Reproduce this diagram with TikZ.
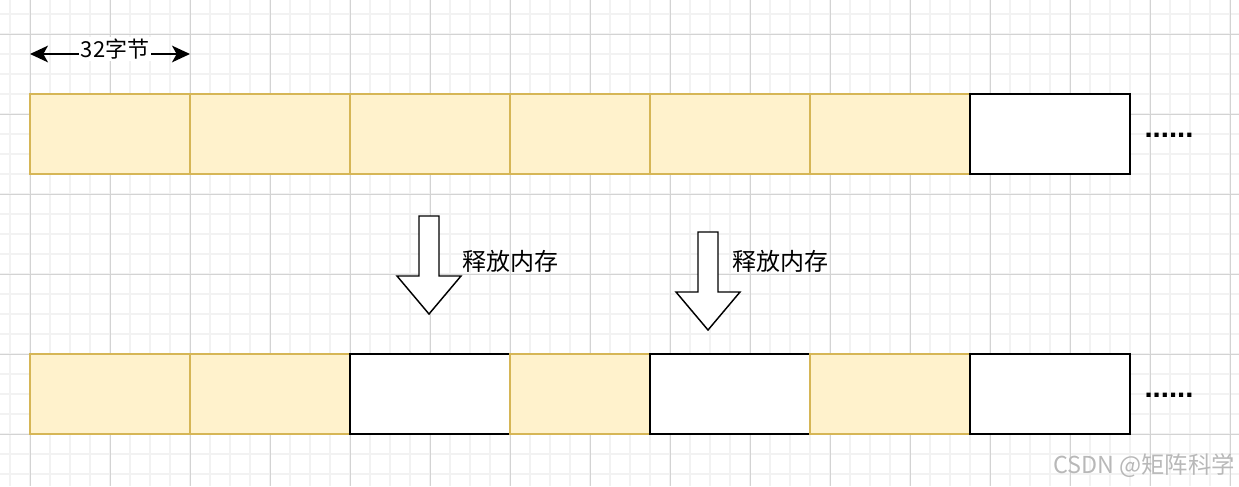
\documentclass[tikz,border=0pt]{standalone}
\usepackage{fontspec}
\setmainfont{Noto Sans CJK SC}
\newfontfamily\dotfont{Liberation Sans}
\usepackage{xcolor}
\usetikzlibrary{positioning,arrows.meta}
\definecolor{usedfill}{HTML}{FFF2CC}
\definecolor{usedline}{HTML}{D6B656}
\definecolor{gridminor}{HTML}{F2F2F2}
\definecolor{gridmajor}{HTML}{D3D3D3}
\definecolor{markgray}{HTML}{B8B8B8}

\begin{document}
\begin{tikzpicture}[x=0.75pt,y=-0.75pt,
  used/.style={draw=usedline,fill=usedfill,line width=1.1pt,minimum width=120pt,minimum height=60pt,inner sep=0pt,outer sep=0pt},
  free/.style={draw=black,fill=white,line width=1.5pt,minimum width=120pt,minimum height=60pt,inner sep=0pt,outer sep=0pt},
  narrow/.style={minimum width=105pt},
  label/.style={font=\fontsize{18}{18}\selectfont,inner sep=0pt},
  more/.style={font=\dotfont\bfseries\fontsize{22}{22}\selectfont,inner sep=0pt,anchor=base},
  freeing/.style={draw=black,fill=white,line width=1.1pt,line join=miter}]
\useasboundingbox (0,0) rectangle (1239,486);
\foreach \x in {10,30,...,1230} \draw[gridminor,line width=1.2pt] (\x,0) -- (\x,486);
\foreach \y in {14,34,...,474} \draw[gridminor,line width=1.2pt] (0,\y) -- (1239,\y);
\foreach \x in {30,110,...,1230} \draw[gridmajor,line width=0.75pt] (\x,0) -- (\x,486);
\foreach \y in {34,114,...,434} \draw[gridmajor,line width=0.75pt] (0,\y) -- (1239,\y);

\coordinate (w0) at (30,54);
\coordinate (w1) at (190,54);
\draw[line width=1.1pt,{Stealth[length=13.5pt,width=12.5pt,inset=3.5pt]}-{Stealth[length=13.5pt,width=12.5pt,inset=3.5pt]}] (w0) -- (w1);
\node[fill=white,inner sep=1pt,font=\fontsize{16.5}{16.5}\selectfont] (size) at (115,49) {32字节};

\node[used] (t1) at (110,134) {};
\node[used] (t2) at (270,134) {};
\node[used] (t3) at (430,134) {};
\node[used,narrow] (t4) at (580,134) {};
\node[used] (t5) at (730,134) {};
\node[used] (t6) at (890,134) {};
\node[free] (t7) at (1050,134) {};
\node[more] (tmore) at (1169,137) {......};

\draw[freeing] (419,216) -- (439,216) -- (439,276) -- (461,276) -- (429,314) -- (397,276) -- (419,276) -- cycle;
\node[label] (f1) at (510,261) {释放内存};
\draw[freeing] (698,232) -- (718,232) -- (718,292) -- (740,292) -- (708,330) -- (676,292) -- (698,292) -- cycle;
\node[label] (f2) at (780,261) {释放内存};

\node[used] (b1) at (110,394) {};
\node[used] (b2) at (270,394) {};
\node[free] (b3) at (430,394) {};
\node[used,narrow] (b4) at (580,394) {};
\node[free] (b5) at (730,394) {};
\node[used] (b6) at (890,394) {};
\node[free] (b7) at (1050,394) {};
\node[more] (bmore) at (1169,397) {......};

\node[text=markgray,font=\fontsize{17.5}{17.5}\selectfont,inner sep=0pt] (mark) at (1144,466) {CSDN @矩阵科学};
\end{tikzpicture}
\end{document}
